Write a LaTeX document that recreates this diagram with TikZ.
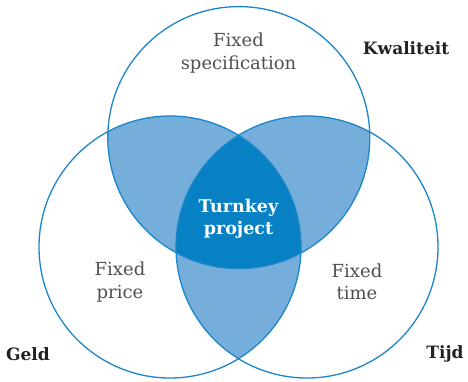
\documentclass[tikz,border=0pt]{standalone}
\usepackage{fontspec}
\setmainfont{DejaVu Serif}
\definecolor{ring}{HTML}{1B86C8}
\definecolor{lightb}{HTML}{75AEDB}
\definecolor{darkb}{HTML}{0880C4}
\definecolor{soft}{HTML}{505050}
\definecolor{ink}{HTML}{222222}
\tikzset{
  ringline/.style={draw=ring, line width=1.3pt},
  fixedtext/.style={text=soft, align=center, inner sep=0pt, font=\fontsize{18}{22.5}\selectfont},
  boldlabel/.style={text=ink, inner sep=0pt, font=\bfseries\fontsize{17}{20}\selectfont},
  centertext/.style={text=white, align=center, inner sep=0pt, font=\bfseries\fontsize{17.5}{22}\selectfont}
}
\begin{document}
\begin{tikzpicture}[x=1pt,y=-1pt]
\useasboundingbox (0,0) rectangle (468,382);
\coordinate (T) at (238.8,137.6);
\coordinate (L) at (170,247);
\coordinate (R) at (307,247);
\def\rr{131pt}
% pairwise intersections
\begin{scope}
  \clip (T) circle (\rr);
  \fill[lightb] (L) circle (\rr);
  \fill[lightb] (R) circle (\rr);
\end{scope}
\begin{scope}
  \clip (L) circle (\rr);
  \fill[lightb] (R) circle (\rr);
\end{scope}
% triple intersection
\begin{scope}
  \clip (T) circle (\rr);
  \clip (L) circle (\rr);
  \fill[darkb] (R) circle (\rr);
\end{scope}
% outlines
\draw[ringline] (T) circle (\rr);
\draw[ringline] (L) circle (\rr);
\draw[ringline] (R) circle (\rr);
% texts
\node[fixedtext] (spec) at (238.5,53) {Fixed\\specification};
\node[fixedtext] (price) at (120,282) {Fixed\\price};
\node[fixedtext] (time) at (357,282) {Fixed\\time};
\node[centertext] (turnkey) at (238.5,219) {Turnkey\\project};
\node[boldlabel] (kwal) at (406,48) {Kwaliteit};
\node[boldlabel] (geld) at (28,354) {Geld};
\node[boldlabel] (tijd) at (445,354) {Tijd};
\end{tikzpicture}
\end{document}
